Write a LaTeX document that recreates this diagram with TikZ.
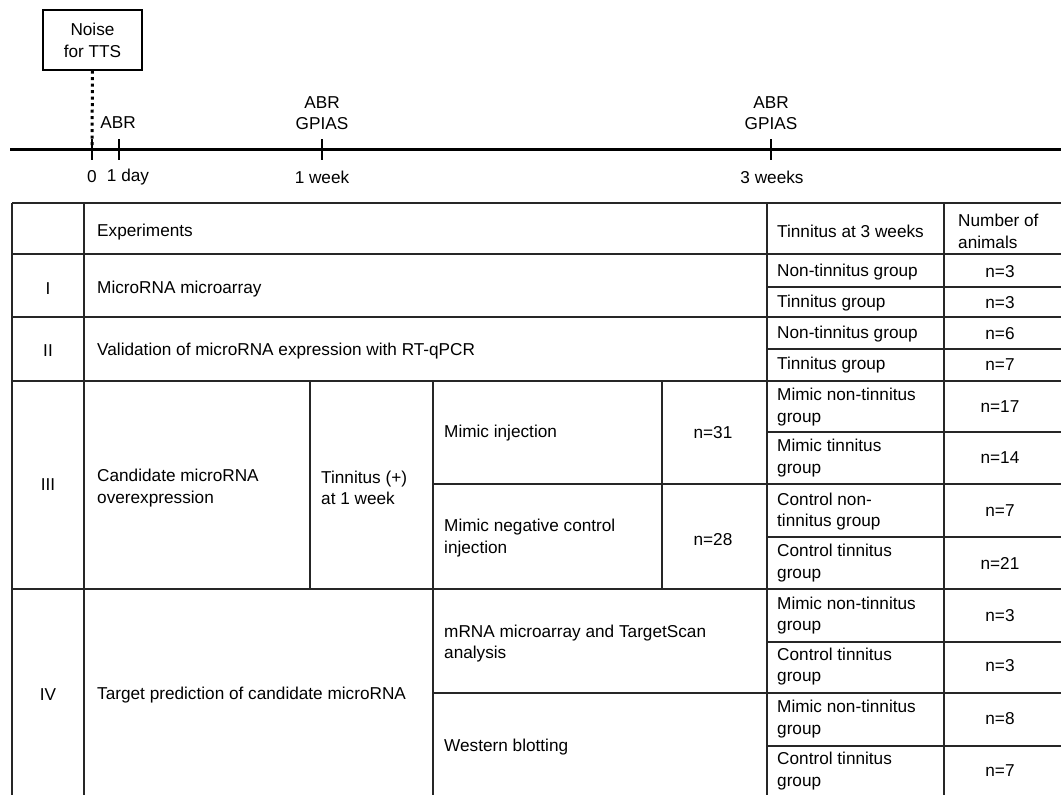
\documentclass[tikz,border=0pt]{standalone}
\usepackage{fontspec}
\setmainfont{Liberation Sans}
\usetikzlibrary{calc}
\begin{document}
\begin{tikzpicture}[x=1pt,y=-1pt,
  txt/.style={font=\fontsize{17.2}{21.5}\selectfont, inner sep=0pt, align=left, anchor=west},
  ctxt/.style={font=\fontsize{17.2}{21.5}\selectfont, inner sep=0pt, align=center, anchor=center},
  rule/.style={line width=1.5pt, draw=black!85},
  axis/.style={line width=3pt},
  tick/.style={line width=2.5pt}]
\useasboundingbox (0,0) rectangle (1061,795);
% ---- timeline ----
\node[draw, line width=1.2pt, minimum width=99pt, minimum height=60pt, ctxt,
      font=\fontsize{17.2}{22}\selectfont] (noise) at (92.5,40) {Noise\\for TTS};
\coordinate (ls) at (10,149);
\coordinate (le) at (1061,149);
\draw[axis] (ls) -- (le);
\coordinate (t0) at (92,149);
\coordinate (t1) at (119,149);
\coordinate (t2) at (322,149);
\coordinate (t3) at (771,149);
\foreach \t in {t0,t1,t2,t3} \draw[tick] ($(\t)+(0,-10)$) -- ($(\t)+(0,11)$);
\draw[line width=3pt, dash pattern=on 3pt off 3.5pt] (noise.south) -- (t0);
\node[ctxt] (abr1) at (118,123) {ABR};
\node[ctxt] (abr2) at (322,113) {ABR\\GPIAS};
\node[ctxt] (abr3) at (771,113) {ABR\\GPIAS};
\node[ctxt] (l0) at (92,177) {0};
\node[ctxt] (l1) at (128,177) {1 day};
\node[ctxt] (l2) at (322,177) {1 week};
\node[ctxt] (l3) at (772,177) {3 weeks};
% ---- table rules ----
\foreach \y in {203,254,317,381,589} \draw[rule] (12,\y) -- (1061,\y);
\foreach \y in {287,349,432,537,642,746} \draw[rule] (767,\y) -- (1061,\y);
\foreach \y in {484,693} \draw[rule] (433,\y) -- (1061,\y);
\foreach \x in {12,84,767,944} \draw[rule] (\x,203) -- (\x,796);
\foreach \x in {310,662} \draw[rule] (\x,381) -- (\x,589);
\draw[rule] (433,381) -- (433,796);
% ---- header ----
\node[txt] (hexp) at (97,232) {Experiments};
\node[txt] (htin) at (777,231) {Tinnitus at 3 weeks};
\node[txt] (hnum) at (958,231.5) {Number of\\animals};
% ---- row I ----
\node[ctxt] (rI) at (48,289) {I};
\node[txt] (eI) at (97,289) {MicroRNA microarray};
\node[txt] (gI1) at (777,272) {Non-tinnitus group};
\node[txt] (gI2) at (777,303) {Tinnitus group};
\node[ctxt] (nI1) at (1000,272) {n=3};
\node[ctxt] (nI2) at (1000,303) {n=3};
% ---- row II ----
\node[ctxt] (rII) at (48,351) {II};
\node[txt] (eII) at (97,351) {Validation of microRNA expression with RT-qPCR};
\node[txt] (gII1) at (777,334) {Non-tinnitus group};
\node[txt] (gII2) at (777,365) {Tinnitus group};
\node[ctxt] (nII1) at (1000,334) {n=6};
\node[ctxt] (nII2) at (1000,365) {n=7};
% ---- row III ----
\node[ctxt] (rIII) at (48,485) {III};
\node[txt] (eIII) at (97,488) {Candidate microRNA\\overexpression};
\node[txt] (tIII) at (321,488) {Tinnitus (+)\\at 1 week};
\node[txt] (mi) at (444,433) {Mimic injection};
\node[ctxt] (n31) at (713,433) {n=31};
\node[txt] (mn) at (444,538) {Mimic negative control\\injection};
\node[ctxt] (n28) at (713,540) {n=28};
\node[txt] (gIII1) at (777,407) {Mimic non-tinnitus\\group};
\node[txt] (gIII2) at (777,458) {Mimic tinnitus\\group};
\node[txt] (gIII3) at (777,511.5) {Control non-\\tinnitus group};
\node[txt] (gIII4) at (777,563) {Control tinnitus\\group};
\node[ctxt] (nIII1) at (1000,407) {n=17};
\node[ctxt] (nIII2) at (1000,458) {n=14};
\node[ctxt] (nIII3) at (1000,511) {n=7};
\node[ctxt] (nIII4) at (1000,563) {n=21};
% ---- row IV ----
\node[ctxt] (rIV) at (48,695) {IV};
\node[txt] (eIV) at (97,695) {Target prediction of candidate microRNA};
\node[txt] (mr) at (444,643.5) {mRNA microarray and TargetScan\\analysis};
\node[txt] (wb) at (444,747) {Western blotting};
\node[txt] (gIV1) at (777,615.5) {Mimic non-tinnitus\\group};
\node[txt] (gIV2) at (777,666.5) {Control tinnitus\\group};
\node[txt] (gIV3) at (777,719) {Mimic non-tinnitus\\group};
\node[txt] (gIV4) at (777,771) {Control tinnitus\\group};
\node[ctxt] (nIV1) at (1000,616) {n=3};
\node[ctxt] (nIV2) at (1000,666) {n=3};
\node[ctxt] (nIV3) at (1000,719) {n=8};
\node[ctxt] (nIV4) at (1000,771) {n=7};
\end{tikzpicture}
\end{document}
